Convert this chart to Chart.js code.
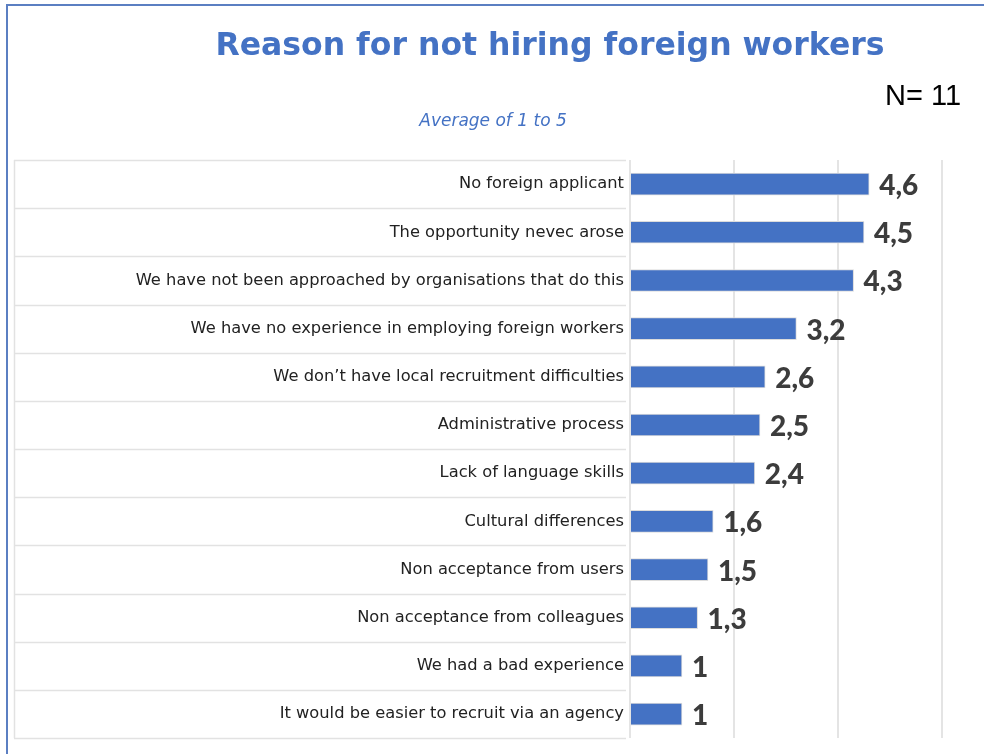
<!DOCTYPE html>
<html lang="en">
<head>
    <meta charset="UTF-8">
    <title>Reason for not hiring foreign workers</title>
    <script src="https://cdn.jsdelivr.net/npm/chart.js"></script>
    <style>
        body {
            margin: 0;
            background: #fff;
        }
        #wrap {
            width: 984px;
            height: 754px;
        }
    </style>
</head>
<body>
<div id="wrap"><canvas id="reasonChart" width="984" height="754"></canvas></div>

<script>
    const reasons = [
        'No foreign applicant',
        'The opportunity nevec arose',
        'We have not been approached by organisations that do this',
        'We have no experience in employing foreign workers',
        'We don\u2019t have local recruitment difficulties',
        'Administrative process',
        'Lack of language skills',
        'Cultural differences',
        'Non acceptance from users',
        'Non acceptance from colleagues',
        'We had a bad experience',
        'It would be easier to recruit via an agency'
    ];
    const averages = [4.6, 4.5, 4.3, 3.2, 2.6, 2.5, 2.4, 1.6, 1.5, 1.3, 1, 1];
    const xTicks = [0, 2, 4, 6];

    const blue = '#4472C4';
    const labelFont = '"DejaVu Sans", sans-serif';
    const valueFont = 'Lato, sans-serif';

    // frame, headings and the row separators on the label side
    const decorations = {
        id: 'decorations',
        beforeDraw(chart) {
            const ctx = chart.ctx;
            const area = chart.chartArea;
            const yScale = chart.scales.y;
            ctx.save();
            ctx.fillStyle = '#fff';
            ctx.fillRect(0, 0, chart.width, chart.height);

            ctx.strokeStyle = '#5b7fc2';
            ctx.lineWidth = 2;
            ctx.beginPath();
            ctx.moveTo(7, chart.height);
            ctx.lineTo(7, 5);
            ctx.lineTo(chart.width, 5);
            ctx.stroke();

            ctx.strokeStyle = '#e2e2e2';
            ctx.lineWidth = 1.5;
            const step = (yScale.getPixelForValue(1) - yScale.getPixelForValue(0));
            for (let i = 0; i <= reasons.length; i++) {
                const y = Math.round(yScale.getPixelForValue(0) + (i - 0.5) * step) + 0.5;
                ctx.beginPath();
                ctx.moveTo(14, y);
                ctx.lineTo(area.left - 4, y);
                ctx.stroke();
            }
            ctx.beginPath();
            ctx.moveTo(14.5, area.top);
            ctx.lineTo(14.5, area.bottom);
            ctx.stroke();

            ctx.fillStyle = blue;
            ctx.textAlign = 'center';
            ctx.textBaseline = 'middle';
            ctx.font = 'bold 31.5px ' + labelFont;
            ctx.fillText('Reason for not hiring foreign workers', 550, 47);
            ctx.font = 'oblique 17px ' + labelFont;
            ctx.fillText('Average of 1 to 5', 493, 122);

            ctx.fillStyle = '#000';
            ctx.textAlign = 'left';
            ctx.font = '29px "Liberation Sans Narrow", "Liberation Sans", sans-serif';
            ctx.fillText('N= 11', 885, 97);
            ctx.restore();
        },
        afterDatasetsDraw(chart) {
            const ctx = chart.ctx;
            const meta = chart.getDatasetMeta(0);
            ctx.save();
            ctx.fillStyle = '#3c3c3c';
            ctx.font = '900 28px ' + valueFont;
            ctx.textAlign = 'left';
            ctx.textBaseline = 'middle';
            meta.data.forEach((bar, i) => {
                const txt = String(averages[i]).replace('.', ',');
                ctx.fillText(txt, bar.x + 10, bar.y + 2);
            });
            ctx.restore();
        }
    };

    new Chart(document.getElementById('reasonChart'), {
        type: 'bar',
        data: {
            labels: reasons,
            datasets: [{
                data: averages,
                backgroundColor: blue,
                borderColor: '#dcdcdc',
                borderWidth: 1,
                barThickness: 22
            }]
        },
        options: {
            indexAxis: 'y',
            responsive: false,
            animation: false,
            layout: {
                padding: { top: 160, right: 42, bottom: 9, left: 0 }
            },
            plugins: {
                legend: { display: false },
                tooltip: { enabled: false }
            },
            scales: {
                x: {
                    min: 0,
                    max: 6,
                    afterBuildTicks(scale) {
                        scale.ticks = xTicks.map(v => ({ value: v }));
                    },
                    ticks: { display: false },
                    grid: { color: '#e4e4e4', lineWidth: 2, drawTicks: false },
                    border: { display: false }
                },
                y: {
                    afterFit(scale) {
                        scale.width = 630;
                    },
                    grid: { display: false, drawTicks: false },
                    border: { display: false },
                    ticks: {
                        color: '#222',
                        padding: 6,
                        font: { family: labelFont, size: 16.3 }
                    }
                }
            }
        },
        plugins: [decorations]
    });
</script>
</body>
</html>
